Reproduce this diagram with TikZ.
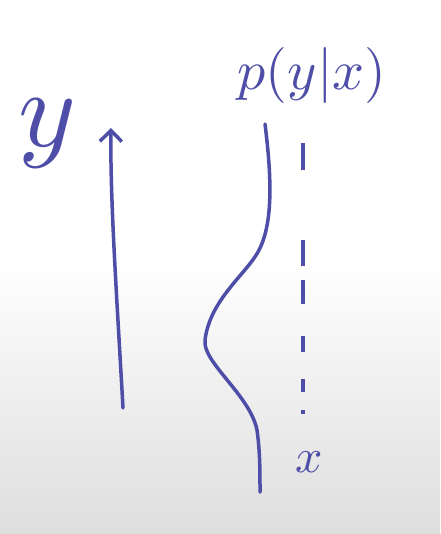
\documentclass[tikz,border=0pt]{standalone}
\usetikzlibrary{arrows.meta}
\definecolor{ink}{RGB}{78,78,168}
\tikzset{every picture/.style={x=1pt, y=-1pt}}
\tikzset{pen/.style={draw=ink, line width=3.5pt, line cap=round, line join=round}}
\tikzset{hand/.style={text=ink, inner sep=0pt}}

\begin{document}
\begin{tikzpicture}
  \useasboundingbox (0,0) rectangle (440,534);
  \fill[white] (0,0) rectangle (440,260);
  \shade[top color=white, bottom color=black!13] (0,259) rectangle (440,534);

  % axis with label
  \node[hand, scale=11] (yl) at (47,134) {$y$};
  \coordinate (a0) at (123,408);
  \coordinate (a1) at (111,128);
  \draw[pen, -{Straight Barb[length=11pt, width=22pt, line width=3.5pt]}]
    (a0) .. controls (117,300) and (110,200) .. (a1);

  % density p(y|x)
  \node[hand, scale=5.6] (pyx) at (312,76) {$p(y|x)$};
  \draw[pen] (265,124) .. controls (272,180) and (273,225) .. (258,252)
    .. controls (245,275) and (210,300) .. (205,340)
    .. controls (202,362) and (250,395) .. (257,430)
    .. controls (260,452) and (260,470) .. (260,492);

  % dashed x line
  \coordinate (d0) at (303,143);
  \coordinate (d1) at (303,414);
  \draw[pen, line cap=butt, dash pattern=on 27 off 70 on 26 off 14 on 24 off 32
    on 16 off 27 on 13 off 18 on 4 off 100] (d0) -- (d1);
  \node[hand, scale=4.8] (xl) at (309,462) {$x$};
\end{tikzpicture}
\end{document}
